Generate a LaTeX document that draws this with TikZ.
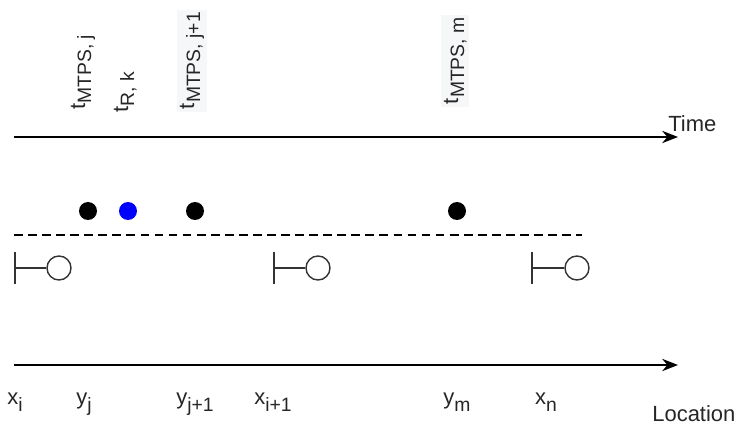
\documentclass[tikz,border=0pt]{standalone}
\usepackage{fontspec}
\setmainfont{Liberation Sans}
\usetikzlibrary{arrows.meta}
\definecolor{evtblue}{RGB}{0,0,255}
\definecolor{lblgray}{RGB}{246,247,248}
\newcommand{\lsub}[1]{\raisebox{-0.28em}{\fontsize{11}{13}\selectfont #1}}

\begin{document}
\begin{tikzpicture}[x=0.02cm,y=-0.02cm,
  timeaxis/.style={line width=1pt,black,-{Stealth[length=9pt,width=7pt]}},
  evt/.style={circle,fill=black,minimum size=0.36cm,inner sep=0pt},
  revt/.style={evt,fill=evtblue},
  stn/.style={circle,draw=black!80,line width=0.8pt,minimum size=0.48cm,inner sep=0pt},
  stnbar/.style={line width=0.8pt,black!80},
  lbl/.style={font=\fontsize{12.5}{15}\selectfont,text=black!85,inner sep=0pt},
  tlbl/.style={lbl,rotate=90,anchor=base west},
  lblbg/.style={fill=lblgray,inner sep=1.5pt}
]
\useasboundingbox (0,0) rectangle (737,425);
% axes
\coordinate (T0) at (14,137);  \coordinate (T1) at (678,137);
\coordinate (L0) at (14,365);  \coordinate (L1) at (678,365);
\coordinate (D0) at (14,235);  \coordinate (D1) at (582,235);
\draw[timeaxis] (T0) -- (T1);
\draw[timeaxis] (L0) -- (L1);
\draw[line width=0.8pt,dash pattern=on 5pt off 3pt] (D0) -- (D1);
\node[lbl,anchor=base west] (time) at (668,132) {Time};
\node[lbl,anchor=base west] (loc)  at (652,421) {Location};
% event times
\node[evt]  (ej)  at (88,211)  {};
\node[revt] (rk)  at (128,211) {};
\node[evt]  (ej1) at (195,211) {};
\node[evt]  (em)  at (457,211) {};
\node[tlbl]       (tj)  at (85,110)  {t\lsub{MTPS, j}};
\node[tlbl]       (tk)  at (128,113) {t\lsub{R, k}};
\node[tlbl,lblbg] (tj1) at (194,112) {t\lsub{MTPS, j+1}};
\node[tlbl,lblbg] (tm)  at (458,107) {t\lsub{MTPS, m}};
% stations
\coordinate (b1) at (15,268);  \node[stn] (s1) at (59,268)  {};
\coordinate (b2) at (274,268); \node[stn] (s2) at (318,268) {};
\coordinate (b3) at (532,268); \node[stn] (s3) at (577,268) {};
\foreach \i in {1,2,3}{
  \draw[stnbar] (b\i) -- (s\i);
  \draw[stnbar] (b\i) ++(0,-16) -- ++(0,32);
}
% locations
\node[lbl,anchor=base] (xi)  at (15,405)  {x\lsub{i}};
\node[lbl,anchor=base] (yj)  at (84,405)  {y\lsub{j}};
\node[lbl,anchor=base] (yj1) at (195,405) {y\lsub{j+1}};
\node[lbl,anchor=base] (xi1) at (273,405) {x\lsub{i+1}};
\node[lbl,anchor=base] (ym)  at (457,405) {y\lsub{m}};
\node[lbl,anchor=base] (xn)  at (546,405) {x\lsub{n}};
\end{tikzpicture}
\end{document}
